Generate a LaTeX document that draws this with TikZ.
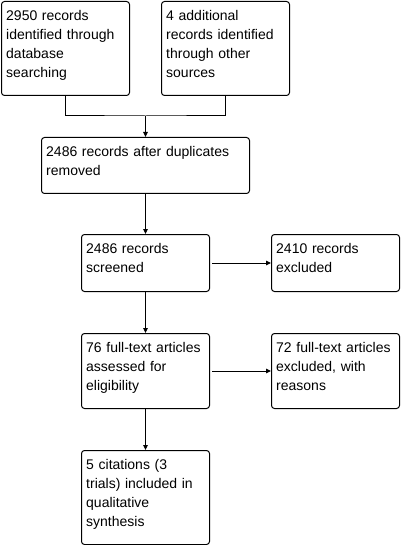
\documentclass[tikz,border=0pt]{standalone}
\usepackage{fontspec}
\setmainfont{Liberation Sans}
\usetikzlibrary{arrows.meta,calc}
\begin{document}
\begin{tikzpicture}[x=1pt,y=-1pt,
  box/.style={draw=black,line width=1pt,rounded corners=3pt,inner sep=0pt,anchor=north west,minimum width=128pt},
  txt/.style={anchor=north west,inner sep=0pt,text width=200pt,align=left,font=\fontsize{14}{19}\selectfont},
  arr/.style={draw=black,line width=1pt,-{Triangle[length=5pt,width=4.5pt]}},
  ln/.style={draw=black,line width=1pt}]
\useasboundingbox (0,0) rectangle (402,545);
% boxes
\node[box,minimum height=94pt] (b1) at (1,1) {};
\node[box,minimum height=94pt] (b2) at (161,1) {};
\node[box,minimum width=208pt,minimum height=56pt] (b3) at (41,137) {};
\node[box,minimum height=57pt] (b4) at (81,234) {};
\node[box,minimum height=57pt] (b5) at (271,234) {};
\node[box,minimum height=75pt] (b6) at (81,333) {};
\node[box,minimum height=75pt] (b7) at (271,333) {};
\node[box,minimum height=94pt] (b8) at (81,450) {};
% texts
\node[txt] (t1) at ($(b1.north west)+(5,5.7)$) {\strut 2950 records\\identified through\\database\\searching};
\node[txt] (t2) at ($(b2.north west)+(5,5.7)$) {\strut 4 additional\\records identified\\through other\\sources};
\node[txt] (t3) at ($(b3.north west)+(5,5.7)$) {\strut 2486 records after duplicates\\removed};
\node[txt] (t4) at ($(b4.north west)+(5,5.7)$) {\strut 2486 records\\screened};
\node[txt] (t5) at ($(b5.north west)+(5,5.7)$) {\strut 2410 records\\excluded};
\node[txt] (t6) at ($(b6.north west)+(5,5.7)$) {\strut 76 full-text articles\\assessed for\\eligibility};
\node[txt] (t7) at ($(b7.north west)+(5,5.7)$) {\strut 72 full-text articles\\excluded, with\\reasons};
\node[txt] (t8) at ($(b8.north west)+(5,5.7)$) {\strut 5 citations (3\\trials) included in\\qualitative\\synthesis};
% connectors
\coordinate (j) at (b3.north |- 0,116);
\draw[ln] (b1.south) |- (j) -| (b2.south);
\draw[arr] (j) -- (b3.north);
\draw[arr] (b3.south) -- (b4.north);
\draw[arr] ([xshift=2pt]b4.east) -- (b5.west);
\draw[arr] (b4.south) -- (b6.north);
\draw[arr] ([xshift=2pt]b6.east) -- (b7.west);
\draw[arr] (b6.south) -- (b8.north);
\end{tikzpicture}
\end{document}
